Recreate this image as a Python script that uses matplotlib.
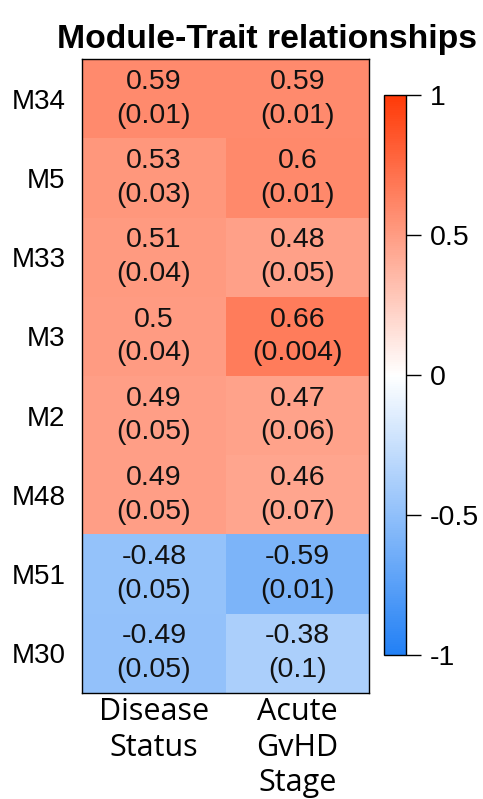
import matplotlib
matplotlib.use("Agg")
import matplotlib.pyplot as plt
import numpy as np
from matplotlib.colors import LinearSegmentedColormap, Normalize

modules = ["M34", "M5", "M33", "M3", "M2", "M48", "M51", "M30"]
traits = ["Disease\nStatus", "Acute\nGvHD\nStage"]
corr_disease = [0.59, 0.53, 0.51, 0.50, 0.49, 0.49, -0.48, -0.49]
corr_gvhd = [0.59, 0.60, 0.48, 0.66, 0.47, 0.46, -0.59, -0.38]
corr_disease_txt = ["0.59", "0.53", "0.51", "0.5", "0.49", "0.49", "-0.48", "-0.49"]
corr_gvhd_txt = ["0.59", "0.6", "0.48", "0.66", "0.47", "0.46", "-0.59", "-0.38"]
p_disease_txt = ["0.01", "0.03", "0.04", "0.04", "0.05", "0.05", "0.05", "0.05"]
p_gvhd_txt = ["0.01", "0.01", "0.05", "0.004", "0.06", "0.07", "0.01", "0.1"]
cbar_ticks = [-1, -0.5, 0, 0.5, 1]
cbar_ticklabels = ["-1", "-0.5", "0", "0.5", "1"]

cmap = LinearSegmentedColormap.from_list("bwr_custom", ["#2280F5", "#FFFFFF", "#FF3A08"], N=256)
norm = Normalize(-1, 1)

fig = plt.figure(figsize=(4.83, 7.99), dpi=100)
ax = fig.add_axes([0.170, 0.133, 0.594, 0.793])

data = np.array([corr_disease, corr_gvhd]).T
ax.pcolormesh(np.arange(3), np.arange(len(modules) + 1), data, cmap=cmap, norm=norm)
ax.set_xlim(0, 2)
ax.set_ylim(len(modules), 0)

font = "Liberation Sans"
for i in range(len(modules)):
    for j, (ctxt, ptxt) in enumerate([(corr_disease_txt, p_disease_txt), (corr_gvhd_txt, p_gvhd_txt)]):
        ax.text(j + 0.5, i + 0.5, f"{ctxt[i]}\n({ptxt[i]})", ha="center", va="center",
                fontsize=20.5, family=font, linespacing=1.38, color="#111111")

ax.set_yticks(np.arange(len(modules)) + 0.5)
ax.set_yticklabels(modules, fontsize=20, family=font)
ax.set_xticks(np.arange(2) + 0.5)
ax.set_xticklabels(traits, fontsize=22, family="Open Sans", linespacing=1.25)
ax.tick_params(length=0, pad=3)
ax.tick_params(axis="y", pad=12)
for s in ax.spines.values():
    s.set_linewidth(1.0)
    s.set_color("black")

ax.set_title("Module-Trait relationships", fontsize=24.3, fontweight="bold", family=font, pad=8, x=0.645)

cax = fig.add_axes([0.795, 0.180, 0.046, 0.701])
sm = matplotlib.cm.ScalarMappable(norm=norm, cmap=cmap)
cb = fig.colorbar(sm, cax=cax, ticks=cbar_ticks)
cb.ax.set_yticklabels(cbar_ticklabels, fontsize=20.5, family=font)
cb.ax.tick_params(length=11, width=1, pad=6)
cb.outline.set_linewidth(1.0)

fig.savefig("out.png", dpi=100)
